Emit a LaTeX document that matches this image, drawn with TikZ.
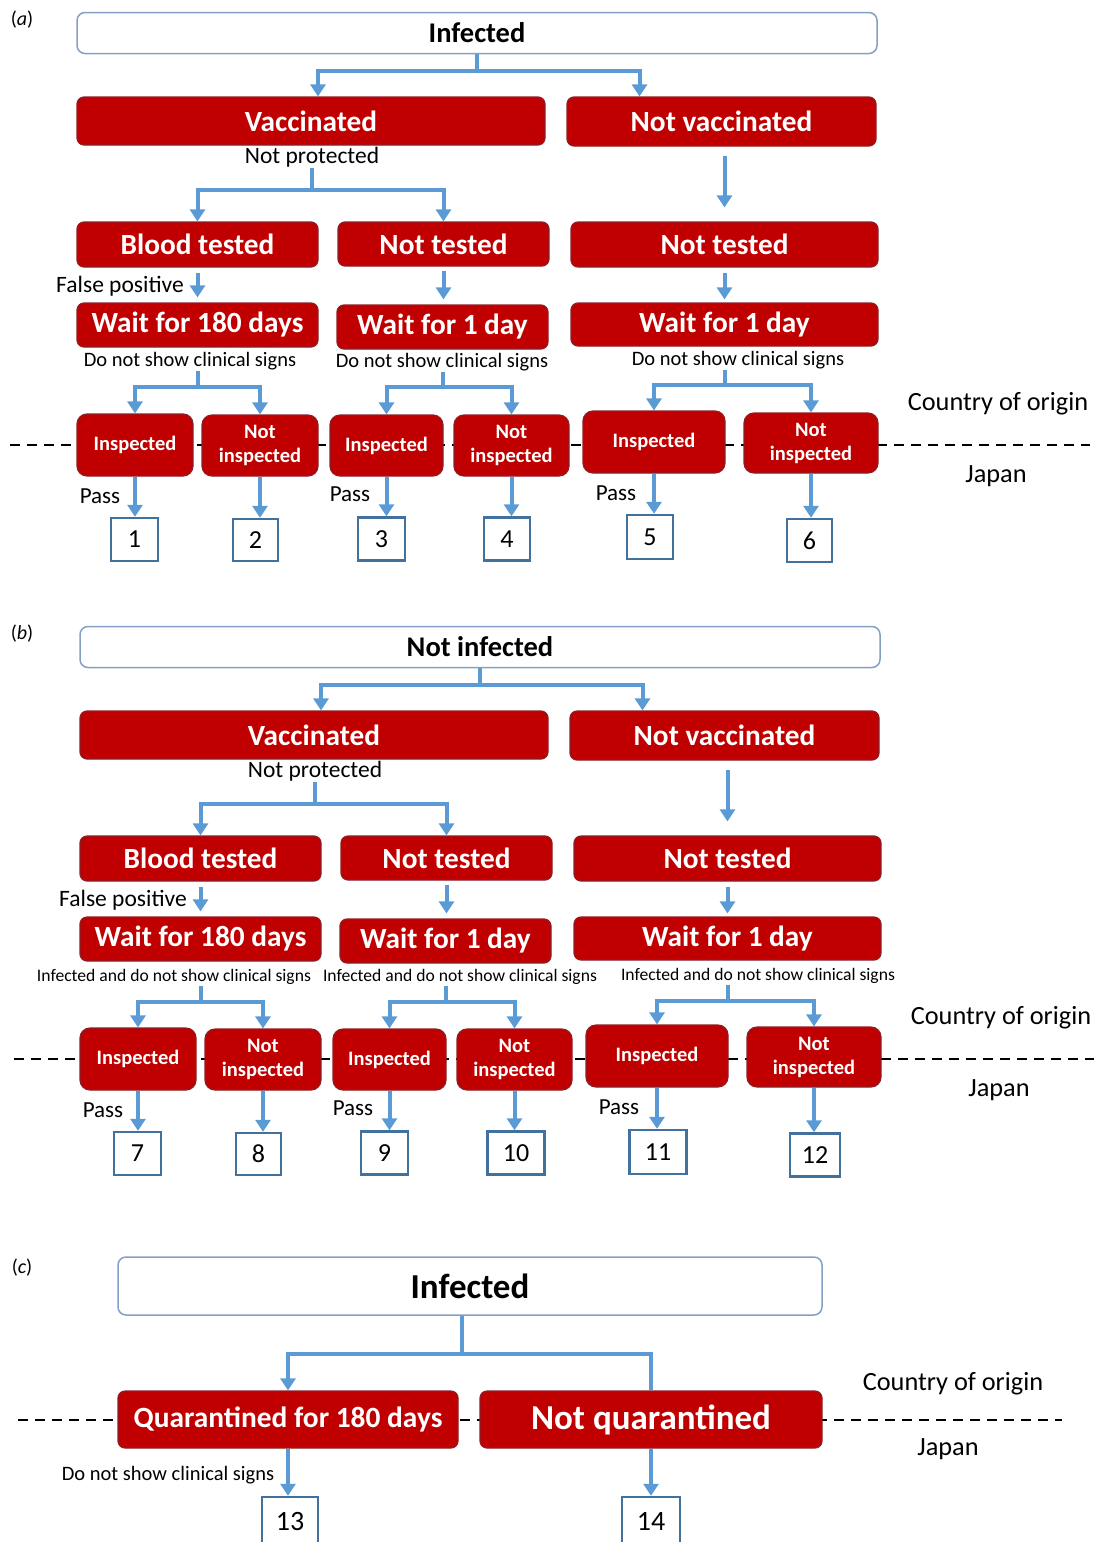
\documentclass[tikz,border=0pt]{standalone}
\usepackage{fontspec}
\setmainfont{Carlito}
\usepackage{tikz}
\usetikzlibrary{arrows.meta}
\definecolor{redFill}{RGB}{192,0,0}
\definecolor{redEdge}{RGB}{140,30,40}
\definecolor{arrowBlue}{RGB}{91,155,213}
\definecolor{numEdge}{RGB}{65,113,156}
\definecolor{topEdge}{RGB}{132,160,196}
\tikzset{myboxTop/.style={draw=topEdge, line width=1.5pt, fill=white, rounded corners=8pt, font=\bfseries\fontsize{28.5}{30}\selectfont}}
\tikzset{myboxRed/.style={draw=redEdge, line width=1.2pt, fill=redFill, rounded corners=7pt, text=white, font=\bfseries\fontsize{29.3}{31}\selectfont}}
\tikzset{myboxSmall/.style={myboxRed, rounded corners=10pt, align=center, font=\bfseries\fontsize{20.5}{24}\selectfont}}
\tikzset{myboxNum/.style={draw=numEdge, line width=2.5pt, fill=white, font=\fontsize{26}{28}\selectfont}}
\tikzset{mylabel/.style={inner sep=1pt, font=\fontsize{20.5}{22}\selectfont}}
\tikzset{mylabelMid/.style={inner sep=1pt, font=\fontsize{23.5}{25}\selectfont}}
\tikzset{mylabelBig/.style={inner sep=1pt, font=\fontsize{26.3}{28}\selectfont}}
\tikzset{myarrow/.style={draw=arrowBlue, line width=4pt, -{Triangle[width=15pt,length=12pt]}}}
\tikzset{myline/.style={draw=arrowBlue, line width=4pt}}
\tikzset{myborder/.style={dash pattern=on 10pt off 7pt, line width=2pt}}

\begin{document}
\begin{tikzpicture}[x=1pt, y=-1pt]
\useasboundingbox (0,0) rectangle (1097,1542);

% (a) infected
\draw[myborder] (10,445) -- (1090,445);

\node[font=\fontsize{20}{22}\selectfont] (lblA) at (22,20) {(\textit{a})};
\node[myboxTop, minimum width=800pt, minimum height=41pt] (inf1) at (477,33) {Infected};

\node[myboxRed, minimum width=468pt, minimum height=48pt] (vac1) at (311,121) {Vaccinated};
\node[myboxRed, minimum width=309pt, minimum height=49pt] (nvac1) at (721.5,121.5) {Not vaccinated};
\node[mylabelMid] (np1) at (312,157) {Not protected};

\node[myboxRed, minimum width=241pt, minimum height=45pt] (blood1) at (197.5,244.5) {Blood tested};
\node[myboxRed, minimum width=211pt, minimum height=44pt] (nt1) at (443.5,244) {Not tested};
\node[myboxRed, minimum width=307pt, minimum height=45pt] (nt2) at (724.5,244.5) {Not tested};
\node[mylabelMid] (fp1) at (120,286) {False positive};

\node[myboxRed, minimum width=241pt, minimum height=44pt] (w180a) at (197.5,325) {Wait for 180 days};
\node[myboxRed, minimum width=211pt, minimum height=44pt] (w1a) at (442.5,327) {Wait for 1 day};
\node[myboxRed, minimum width=307pt, minimum height=43pt] (w1b) at (724.5,324.5) {Wait for 1 day};

\node[mylabel] (dns1) at (190,361) {Do not show clinical signs};
\node[mylabel] (dns2) at (442,362) {Do not show clinical signs};
\node[mylabel] (dns3) at (738,360) {Do not show clinical signs};

\node[myboxSmall, minimum width=116pt, minimum height=62pt] (ins1) at (135,445) {Inspected};
\node[myboxSmall, minimum width=116pt, minimum height=61pt] (nins1) at (260,445.5) {Not\\inspected};
\node[myboxSmall, minimum width=113pt, minimum height=61pt] (ins2) at (386.5,445.5) {Inspected};
\node[myboxSmall, minimum width=115pt, minimum height=61pt] (nins2) at (511.5,445.5) {Not\\inspected};
\node[myboxSmall, minimum width=142pt, minimum height=62pt] (ins3) at (654,442) {Inspected};
\node[myboxSmall, minimum width=134pt, minimum height=60pt] (nins3) at (811,443) {Not\\inspected};

\node[mylabelMid, font=\fontsize{23}{25}\selectfont] (pass1) at (100,496) {Pass};
\node[mylabelMid, font=\fontsize{23}{25}\selectfont] (pass2) at (350,494) {Pass};
\node[mylabelMid, font=\fontsize{23}{25}\selectfont] (pass3) at (616,493) {Pass};

\node[myboxNum, minimum width=47pt, minimum height=43pt] (n1) at (134.5,539.5) {1};
\node[myboxNum, minimum width=45pt, minimum height=42pt] (n2) at (255.5,540) {2};
\node[myboxNum, minimum width=47pt, minimum height=43pt] (n3) at (381.5,539) {3};
\node[myboxNum, minimum width=46pt, minimum height=43pt] (n4) at (507,539) {4};
\node[myboxNum, minimum width=46pt, minimum height=44pt] (n5) at (650,537) {5};
\node[myboxNum, minimum width=45pt, minimum height=43pt] (n6) at (809.5,540.5) {6};

\node[mylabelBig] (coo1) at (998,404) {Country of origin};
\node[mylabelBig] (jp1) at (996,476) {Japan};

\draw[myarrow] (inf1.south) -- ++(0,17) -| ([xshift=7pt]vac1.north);
\draw[myarrow] (inf1.south) -- ++(0,17) -| ([xshift=-82pt]nvac1.north);
\draw[myarrow] (np1.south) -- ++(0,22) -| (blood1.north);
\draw[myarrow] (np1.south) -- ++(0,22) -| (nt1.north);
\draw[myarrow, shorten <=9pt, shorten >=14pt] (nt2.north |- nvac1.south) -- (nt2.north);
\draw[myarrow, shorten <=5pt, shorten >=5pt] (blood1.south) -- (w180a.north);
\draw[myarrow, shorten <=4pt, shorten >=5pt] (nt1.south) -- (nt1.south |- w1a.north);
\draw[myarrow, shorten <=5pt, shorten >=3pt] (nt2.south) -- (w1b.north);
\draw[myarrow] (dns1.south -| w180a.south) -- ++(0,16) -| (ins1.north);
\draw[myarrow] (dns1.south -| w180a.south) -- ++(0,16) -| (nins1.north);
\draw[myarrow] (dns2.south -| w1a.south) -- ++(0,15) -| (ins2.north);
\draw[myarrow] (dns2.south -| w1a.south) -- ++(0,15) -| (nins2.north);
\draw[myarrow] (dns3.south -| w1b.south) -- ++(0,15) -| (ins3.north);
\draw[myarrow] (dns3.south -| w1b.south) -- ++(0,15) -| (nins3.north);
\draw[myarrow] (ins1.south) -- (ins1.south |- n1.north);
\draw[myarrow] (nins1.south) -- (nins1.south |- n2.north);
\draw[myarrow] (ins2.south) -- (ins2.south |- n3.north);
\draw[myarrow] (nins2.south) -- (nins2.south |- n4.north);
\draw[myarrow] (ins3.south) -- (ins3.south |- n5.north);
\draw[myarrow] (nins3.south) -- (nins3.south |- n6.north);

% (b) not infected
\draw[myborder] (14,1059) -- (1094,1059);

\node[font=\fontsize{20}{22}\selectfont] (lblB) at (22,634) {(\textit{b})};
\node[myboxTop, minimum width=800pt, minimum height=41pt] (inf2) at (480,647) {Not infected};

\node[myboxRed, minimum width=468pt, minimum height=48pt] (vac2) at (314,735) {Vaccinated};
\node[myboxRed, minimum width=309pt, minimum height=49pt] (nvac2) at (724.5,735.5) {Not vaccinated};
\node[mylabelMid] (np2) at (315,771) {Not protected};

\node[myboxRed, minimum width=241pt, minimum height=45pt] (blood2) at (200.5,858.5) {Blood tested};
\node[myboxRed, minimum width=211pt, minimum height=44pt] (nt3) at (446.5,858) {Not tested};
\node[myboxRed, minimum width=307pt, minimum height=45pt] (nt4) at (727.5,858.5) {Not tested};
\node[mylabelMid] (fp2) at (123,900) {False positive};

\node[myboxRed, minimum width=241pt, minimum height=44pt] (w180b) at (200.5,939) {Wait for 180 days};
\node[myboxRed, minimum width=211pt, minimum height=44pt] (w1c) at (445.5,941) {Wait for 1 day};
\node[myboxRed, minimum width=307pt, minimum height=43pt] (w1d) at (727.5,938.5) {Wait for 1 day};

\node[mylabel, font=\fontsize{17.6}{19}\selectfont] (ids1) at (174,977) {Infected and do not show clinical signs};
\node[mylabel, font=\fontsize{17.6}{19}\selectfont] (ids2) at (460,977) {Infected and do not show clinical signs};
\node[mylabel, font=\fontsize{17.6}{19}\selectfont] (ids3) at (758,976) {Infected and do not show clinical signs};

\node[myboxSmall, minimum width=116pt, minimum height=62pt] (ins4) at (138,1059) {Inspected};
\node[myboxSmall, minimum width=116pt, minimum height=61pt] (nins4) at (263,1059.5) {Not\\inspected};
\node[myboxSmall, minimum width=113pt, minimum height=61pt] (ins5) at (389.5,1059.5) {Inspected};
\node[myboxSmall, minimum width=115pt, minimum height=61pt] (nins5) at (514.5,1059.5) {Not\\inspected};
\node[myboxSmall, minimum width=142pt, minimum height=62pt] (ins6) at (657,1056) {Inspected};
\node[myboxSmall, minimum width=134pt, minimum height=60pt] (nins6) at (814,1057) {Not\\inspected};

\node[mylabelMid, font=\fontsize{23}{25}\selectfont] (pass4) at (103,1110) {Pass};
\node[mylabelMid, font=\fontsize{23}{25}\selectfont] (pass5) at (353,1108) {Pass};
\node[mylabelMid, font=\fontsize{23}{25}\selectfont] (pass6) at (619,1107) {Pass};

\node[myboxNum, minimum width=47pt, minimum height=43pt] (n7) at (137.5,1153.5) {7};
\node[myboxNum, minimum width=45pt, minimum height=42pt] (n8) at (258.5,1154) {8};
\node[myboxNum, minimum width=47pt, minimum height=43pt] (n9) at (384.5,1153) {9};
\node[myboxNum, minimum width=57pt, minimum height=43pt] (n10) at (516,1153) {10};
\node[myboxNum, minimum width=57pt, minimum height=44pt] (n11) at (658,1152) {11};
\node[myboxNum, minimum width=50pt, minimum height=43pt] (n12) at (815,1155) {12};

\node[mylabelBig] (coo2) at (1001,1018) {Country of origin};
\node[mylabelBig] (jp2) at (999,1090) {Japan};

\draw[myarrow] (inf2.south) -- ++(0,17) -| ([xshift=7pt]vac2.north);
\draw[myarrow] (inf2.south) -- ++(0,17) -| ([xshift=-82pt]nvac2.north);
\draw[myarrow] (np2.south) -- ++(0,22) -| (blood2.north);
\draw[myarrow] (np2.south) -- ++(0,22) -| (nt3.north);
\draw[myarrow, shorten <=9pt, shorten >=14pt] (nt4.north |- nvac2.south) -- (nt4.north);
\draw[myarrow, shorten <=5pt, shorten >=5pt] (blood2.south) -- (w180b.north);
\draw[myarrow, shorten <=4pt, shorten >=5pt] (nt3.south) -- (nt3.south |- w1c.north);
\draw[myarrow, shorten <=5pt, shorten >=3pt] (nt4.south) -- (w1d.north);
\draw[myarrow] (ids1.south -| w180b.south) -- ++(0,16) -| (ins4.north);
\draw[myarrow] (ids1.south -| w180b.south) -- ++(0,16) -| (nins4.north);
\draw[myarrow] (ids2.south -| w1c.south) -- ++(0,16) -| (ins5.north);
\draw[myarrow] (ids2.south -| w1c.south) -- ++(0,16) -| (nins5.north);
\draw[myarrow] (ids3.south -| w1d.south) -- ++(0,16) -| (ins6.north);
\draw[myarrow] (ids3.south -| w1d.south) -- ++(0,16) -| (nins6.north);
\draw[myarrow] (ins4.south) -- (ins4.south |- n7.north);
\draw[myarrow] (nins4.south) -- (nins4.south |- n8.north);
\draw[myarrow] (ins5.south) -- (ins5.south |- n9.north);
\draw[myarrow] (nins5.south) -- (nins5.south |- n10.north);
\draw[myarrow] (ins6.south) -- (ins6.south |- n11.north);
\draw[myarrow] (nins6.south) -- (nins6.south |- n12.north);

% (c) quarantine
\draw[myborder] (18,1420) -- (1062,1420);

\node[font=\fontsize{20}{22}\selectfont] (lblC) at (22,1268) {(\textit{c})};
\node[myboxTop, minimum width=704pt, minimum height=58pt, font=\bfseries\fontsize{35}{37}\selectfont] (inf3) at (470,1286) {Infected};

\node[myboxRed, minimum width=340pt, minimum height=57pt, font=\bfseries\fontsize{29.4}{31}\selectfont] (quar) at (288,1419.5) {Quarantined for 180 days};
\node[myboxRed, minimum width=342pt, minimum height=57pt, font=\bfseries\fontsize{35}{37}\selectfont] (nquar) at (651,1419.5) {Not quarantined};

\node[mylabel] (dns4) at (168,1475) {Do not show clinical signs};
\node[myboxNum, minimum width=56pt, minimum height=48pt, font=\fontsize{28}{30}\selectfont] (n13) at (290,1521) {13};
\node[myboxNum, minimum width=58pt, minimum height=48pt, font=\fontsize{28}{30}\selectfont] (n14) at (651,1521) {14};

\node[mylabelBig] (coo3) at (953,1384) {Country of origin};
\node[mylabelBig] (jp3) at (948,1449) {Japan};

\draw[myarrow] ([xshift=-8pt]inf3.south) -- ++(0,38) -| (quar.north);
\draw[myline] ([xshift=-8pt]inf3.south) -- ++(0,38) -| (nquar.north);
\draw[myarrow] (quar.south) -- (quar.south |- n13.north);
\draw[myarrow] (nquar.south) -- (nquar.south |- n14.north);

\end{tikzpicture}
\end{document}
